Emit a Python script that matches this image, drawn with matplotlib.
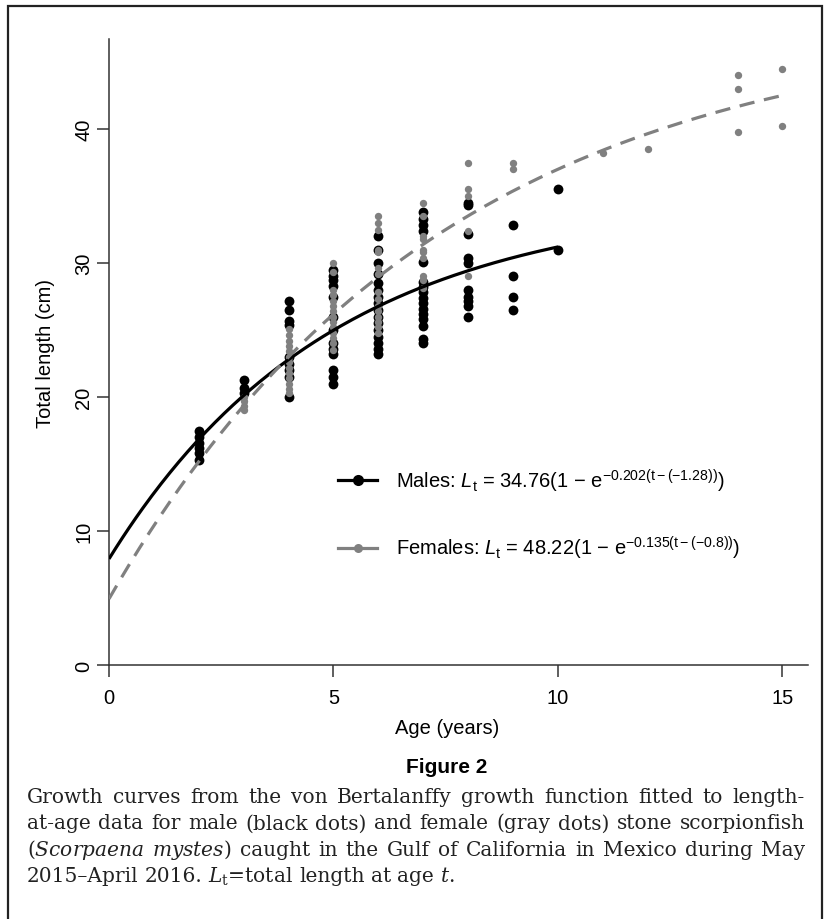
import numpy as np
import matplotlib
matplotlib.use('Agg')
import matplotlib.pyplot as plt
from matplotlib.lines import Line2D
from matplotlib.patches import Rectangle

plt.rcParams['font.family'] = ['Liberation Sans', 'DejaVu Sans']
plt.rcParams['mathtext.fontset'] = 'custom'
plt.rcParams['mathtext.rm'] = 'Liberation Sans'
plt.rcParams['mathtext.it'] = 'Liberation Sans:italic'
plt.rcParams['mathtext.bf'] = 'Liberation Sans:bold'
plt.rcParams['lines.scale_dashes'] = False

# length-at-age (cm)
male_ages = [2, 3, 4, 5, 6, 7, 8, 9, 10]
male_lengths = [
    [15.3, 15.8, 16.2, 16.6, 17.0, 17.5],
    [20.3, 20.7, 21.3],
    [20.0, 21.5, 22.0, 22.5, 23.0, 25.4, 25.7, 26.5, 27.2],
    [21.0, 21.5, 22.0, 23.2, 23.6, 24.0, 25.0, 26.0, 27.5, 28.3, 28.7, 29.0, 29.5],
    [23.2, 23.6, 24.0, 24.5, 25.0, 25.5, 26.0, 26.5, 27.0, 27.5, 28.0, 28.5, 29.2, 30.0, 31.0, 32.0],
    [24.0, 24.3, 25.3, 25.8, 26.2, 26.6, 27.0, 27.4, 27.8, 28.2, 28.6, 30.1, 32.4, 32.8, 33.3, 33.8],
    [26.0, 26.8, 27.2, 27.5, 28.0, 30.0, 30.4, 32.2, 34.3, 34.5],
    [26.5, 27.5, 29.0, 32.8],
    [31.0, 35.5],
]
female_ages = [3, 4, 5, 6, 7, 8, 9, 11, 12, 14, 15]
female_lengths = [
    [19.0, 19.3, 19.7, 20.0],
    [20.3, 20.6, 21.0, 21.4, 21.8, 22.2, 22.6, 23.0, 23.4, 23.8, 24.2, 24.6, 25.1],
    [23.5, 24.0, 24.4, 24.8, 25.2, 25.6, 26.0, 26.4, 26.8, 27.2, 27.6, 28.0, 29.3, 30.0],
    [24.8, 25.2, 25.6, 26.0, 26.4, 26.8, 27.3, 27.8, 29.2, 29.6, 30.8, 31.0, 32.5, 33.0, 33.5],
    [28.1, 28.7, 29.0, 30.4, 30.8, 31.0, 31.8, 32.0, 33.5, 34.5],
    [29.0, 32.4, 35.0, 35.5, 37.5],
    [37.0, 37.5],
    [38.2],
    [38.5],
    [39.8, 43.0, 44.0],
    [40.2, 44.5],
]

# von Bertalanffy parameters given in the legend: Linf, k, t0, last age drawn
male_vb = (34.76, 0.202, -1.28, 10)
female_vb = (48.22, 0.135, -0.8, 15)

xticks = [0, 5, 10, 15]
yticks = [0, 10, 20, 30, 40]

GRAY = '#808080'
W, H = 828, 920

mx = np.concatenate([[a] * len(v) for a, v in zip(male_ages, male_lengths)])
my = np.concatenate(male_lengths)
fx = np.concatenate([[a] * len(v) for a, v in zip(female_ages, female_lengths)])
fy = np.concatenate(female_lengths)

fig = plt.figure(figsize=(W / 100, H / 100), dpi=100)
ax = fig.add_axes([109 / W, 1 - 666 / H, 699 / W, 626 / H])

ax.scatter(mx, my, s=50, color='black', zorder=2, linewidths=0)
ax.scatter(fx, fy, s=28, color=GRAY, zorder=3, linewidths=0)


def vb_curve(p):
    linf, k, t0, tmax = p
    t = np.linspace(0, tmax, 200)
    return t, linf * (1 - np.exp(-k * (t - t0)))


t, L = vb_curve(male_vb)
ax.plot(t, L, color='black', lw=2.3, zorder=4, solid_capstyle='butt')
t, L = vb_curve(female_vb)
ax.plot(t, L, color=GRAY, lw=2.3, zorder=4, dashes=(11, 7), dash_capstyle='butt')

ax.set_xlim(0, 699 / 44.9)
ax.set_ylim(0, 626 / 13.4)
ax.set_xticks(xticks)
ax.set_yticks(yticks)
for s in ['top', 'right']:
    ax.spines[s].set_visible(False)
for s in ['left', 'bottom']:
    ax.spines[s].set_linewidth(1.1)
    ax.spines[s].set_color('#333333')
ax.tick_params(direction='out', length=8.5, width=1.1, color='#333333',
               labelsize=14.5)
ax.tick_params(axis='x', pad=8)
ax.tick_params(axis='y', pad=3)
for lab in ax.get_yticklabels():
    lab.set_rotation(90)
    lab.set_va('center')

ax.set_xlabel('Age (years)', fontsize=14.5)
ax.set_ylabel('Total length (cm)', fontsize=14.5)
ax.xaxis.set_label_coords(0.4835, -0.085)
ax.yaxis.set_label_coords(-0.077, 0.50)

handles = [
    Line2D([], [], color='black', lw=2.3, marker='o', ms=8, mec='none'),
    Line2D([], [], color=GRAY, lw=2.3, marker='o', ms=6.5, mec='none'),
]
labels = [
    r'Males: $\mathit{L}_{\mathrm{t}}$ = 34.76(1 $-$ e$^{-0.202(\mathrm{t}-(-1.28))}$)',
    r'Females: $\mathit{L}_{\mathrm{t}}$ = 48.22(1 $-$ e$^{-0.135(\mathrm{t}-(-0.8))}$)',
]
ax.legend(handles, labels, loc='center left',
          bbox_to_anchor=((338 - 109) / 699, (666 - 515) / 626),
          frameon=False, fontsize=14.5, handlelength=1.95, handletextpad=0.95,
          labelspacing=2.0, borderpad=0, borderaxespad=0)

# caption block
fig.text(447 / W, 1 - 768 / H, 'Figure 2', ha='center', va='center',
         fontsize=15, fontweight='bold',
         family=['Liberation Sans Narrow', 'Liberation Sans'])

cap_lines = [
    'Growth curves from the von Bertalanffy growth function fitted to length-',
    'at-age data for male (black dots) and female (gray dots) stone scorpionfish',
    r'($\mathit{Scorpaena}$ $\mathit{mystes}$) caught in the Gulf of California in Mexico during May',
    r'2015–April 2016. $\mathit{L}_{\mathrm{t}}$=total length at age $\mathit{t}$.',
]
cap_base = [803, 829.5, 856, 882.5]
x0, x1 = 27, 805
renderer = fig.canvas.get_renderer()
cap_kw = dict(family='DejaVu Serif', math_fontfamily='dejavuserif',
              va='baseline', ha='left', color='#222222')

# pick a size so the longest full line just fits the column
probe = [fig.text(0, 0, s, fontsize=14, **cap_kw) for s in cap_lines[:3]]
widest = max(p.get_window_extent(renderer).width for p in probe)
for p in probe:
    p.remove()
cap_fs = 14 * 0.985 * (x1 - x0) / widest

for i, (line, yb) in enumerate(zip(cap_lines, cap_base)):
    words = line.split(' ')
    objs = [fig.text(0, 1 - yb / H, w, fontsize=cap_fs, **cap_kw) for w in words]
    widths = [o.get_window_extent(renderer).width for o in objs]
    if i < len(cap_lines) - 1:
        gap = (x1 - x0 - sum(widths)) / (len(words) - 1)
    else:
        gap = 0.3 * cap_fs * 100 / 72
    x = x0
    for o, w in zip(objs, widths):
        o.set_x(x / W)
        x += w + gap

fig.patches.append(Rectangle((8 / W, -0.05), (822 - 8) / W, 1.05 - 7 / H,
                             transform=fig.transFigure, fill=False,
                             lw=1.6, edgecolor='#222222'))

fig.savefig('out.png', dpi=100)
